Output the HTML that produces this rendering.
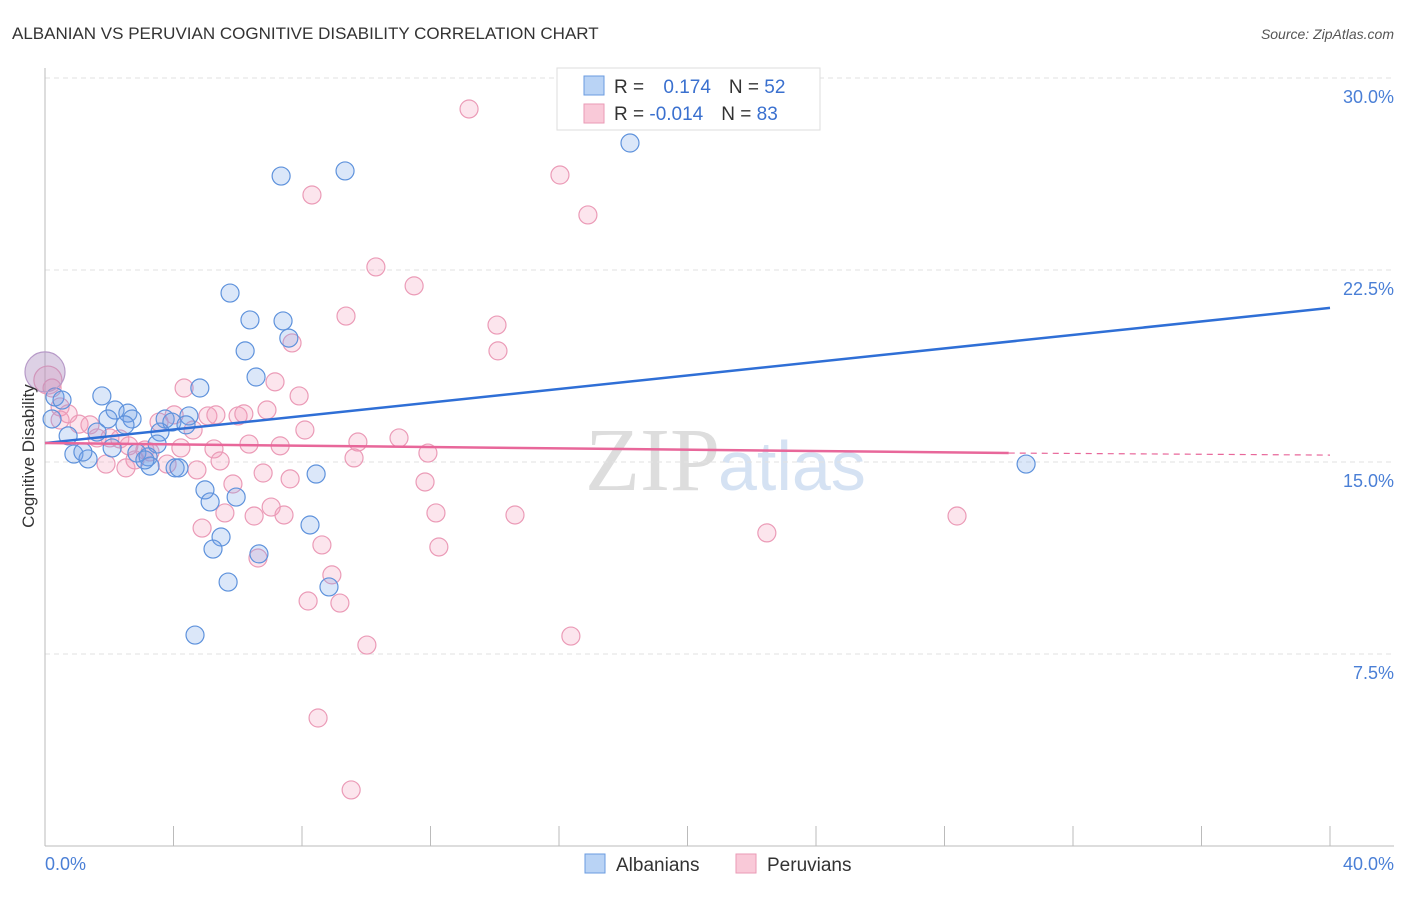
<!DOCTYPE html>
<html><head><meta charset="utf-8"><style>
body{margin:0;background:#fff;font-family:"Liberation Sans",sans-serif}
</style></head><body>
<svg id="c" width="1406" height="892" xmlns="http://www.w3.org/2000/svg" style="font-family:'Liberation Sans',sans-serif">
<text x="12" y="39" font-size="17" fill="#333">ALBANIAN VS PERUVIAN COGNITIVE DISABILITY CORRELATION CHART</text>
<text x="1394" y="39" font-size="14" fill="#555" font-style="italic" text-anchor="end">Source: ZipAtlas.com</text>
<text x="720" y="490" font-size="90" fill="#ddd" text-anchor="end" font-family="Liberation Serif">ZIP</text>
<text x="718" y="490" font-size="70" fill="#d5e2f3">atlas</text>
<g id="grid"></g><g id="pts"></g><g id="lines"></g>
<text transform="translate(34,456) rotate(-90)" font-size="17" fill="#333" text-anchor="middle">Cognitive Disability</text>
<text x="45" y="870" font-size="18" fill="#4a7fd6">0.0%</text>
<text x="1394" y="870" font-size="18" fill="#4a7fd6" text-anchor="end">40.0%</text>
<g>
<rect x="557" y="68" width="263" height="62" fill="#fff" stroke="#ddd"/>
<rect x="584" y="76" width="20" height="19" fill="#b9d3f5" stroke="#6a9be0"/>
<rect x="584" y="104" width="20" height="19" fill="#f9c9d8" stroke="#ea9ab6"/>
<text x="614" y="93" font-size="19" fill="#333">R = <tspan fill="#3a70cf" dx="14">0.174</tspan><tspan dx="18" fill="#333">N = </tspan><tspan fill="#3a70cf">52</tspan></text>
<text x="614" y="120" font-size="19" fill="#333">R = <tspan fill="#3a70cf" dx="0">-0.014</tspan><tspan dx="18" fill="#333">N = </tspan><tspan fill="#3a70cf">83</tspan></text>
</g>
<g>
<rect x="585" y="854" width="20" height="19" fill="#b9d3f5" stroke="#6a9be0"/>
<text x="616" y="871" font-size="19" fill="#333">Albanians</text>
<rect x="736" y="854" width="20" height="19" fill="#f9c9d8" stroke="#ea9ab6"/>
<text x="767" y="871" font-size="19" fill="#333">Peruvians</text>
</g>
</svg>
<script>
const yTicks=[7.5,15,22.5,30];
const yTickLabels=["7.5%","15.0%","22.5%","30.0%"];
const xTicks=[0,4,8,12,16,20,24,28,32,36,40];
const albX=[9.34,7.35,18.21,5.76,6.38,7.41,7.59,6.23,6.57,4.82,1.77,0.31,2.18,2.58,1.96,2.71,0.22,3.74,4.48,3.95,0.72,1.62,2.49,3.58,3.49,2.09,0.90,1.34,1.18,2.86,3.21,3.27,4.05,4.17,8.44,4.98,5.14,5.95,8.25,5.48,5.23,6.66,5.70,8.84,4.67,30.54,0,3.11,0.53,4.39];
const albY=[26.37,26.17,27.46,21.6,20.55,20.51,19.84,19.34,18.32,17.89,17.58,17.54,17.03,16.91,16.68,16.68,16.68,16.68,16.8,16.56,16.02,16.17,16.45,16.17,15.70,15.55,15.31,15.12,15.39,15.35,15.2,14.84,14.77,14.77,14.53,13.91,13.44,13.63,12.54,12.07,11.60,11.41,10.31,10.12,8.24,14.92,18.52,15.08,17.42,16.45];
const albBig=[46];
const perX=[13.2,16.03,8.31,16.9,10.3,11.49,9.37,14.07,7.69,14.1,4.33,7.16,7.91,0.22,0.47,0.72,5.07,5.32,6.01,6.19,6.91,4.02,1.06,3.55,4.61,8.09,11.02,9.74,6.35,7.32,1.62,2.33,0.47,5.26,4.23,11.92,9.62,3.11,2.61,2.8,5.45,3.8,1.9,2.52,4.73,6.79,7.63,11.83,5.85,7.04,5.6,6.51,7.44,12.17,14.63,28.39,4.89,22.47,8.62,12.26,6.63,8.93,8.19,9.18,16.37,10.02,8.5,9.53,0.09,1.4,3.27,2.02];
const perY=[28.79,26.21,25.43,24.65,22.62,21.88,20.7,20.35,19.65,19.34,17.89,18.13,17.58,17.89,17.15,16.88,16.8,16.84,16.8,16.88,17.03,16.84,16.48,16.56,16.25,16.25,15.94,15.78,15.7,15.63,15.94,15.9,16.64,15.51,15.55,15.35,15.16,15.47,15.63,15.08,15.04,14.92,14.92,14.77,14.69,14.57,14.34,14.22,14.14,13.24,13.01,12.89,12.93,13.01,12.93,12.89,12.42,12.23,11.76,11.68,11.25,10.59,9.57,9.49,8.2,7.85,5.0,2.19,18.2,16.45,15.39,15.94];
const albTrend=[15.74,21.02];
const perTrend=[15.74,15.35,15.27];
const sx=v=>45+v*32.125, sy=v=>846-v*25.6;
const NS="http://www.w3.org/2000/svg";
function mk(t,a,p){const e=document.createElementNS(NS,t);for(const k in a)e.setAttribute(k,a[k]);p.appendChild(e);return e;}
const g=document.getElementById('grid');
yTicks.forEach((t,i)=>{
 const l=mk('line',{x1:45,x2:1394,y1:sy(t),y2:sy(t),stroke:'#e2e2e2','stroke-dasharray':'5,4'},g);
 
 
 const tx=mk('text',{x:1394,y:sy(t)+25,'font-size':18,fill:'#4a7fd6','text-anchor':'end'},g);
 tx.textContent=yTickLabels[i];
 
 
});
const ax=mk('line',{x1:45,x2:45,y1:68,y2:846,stroke:'#bbb'},g);


const bx=mk('line',{x1:45,x2:1394,y1:846,y2:846,stroke:'#bbb'},g);


xTicks.forEach(t=>{const l=mk('line',{x1:sx(t),x2:sx(t),y1:826,y2:846,stroke:'#bbb'},g);
 
 });
const p=document.getElementById('pts');
perX.forEach((x,i)=>{const r=(i===68)?14:9;const c=mk('circle',{cx:sx(x),cy:sy(perY[i]),r:r,fill:'rgba(242,150,182,0.25)',stroke:'#eb9bb7','stroke-width':1.2},p);
 
 });
albX.forEach((x,i)=>{const r=albBig.includes(i)?20:9;const c=mk('circle',{cx:sx(x),cy:sy(albY[i]),r:r,fill:r>9?'rgba(170,140,190,0.4)':'rgba(110,160,230,0.25)',stroke:r>9?'#b79ac8':'#5e92dc','stroke-width':1.2},p);
 
 });
const L=document.getElementById('lines');
const b=mk('line',{x1:sx(0),y1:sy(albTrend[0]),x2:sx(40),y2:sy(albTrend[1]),stroke:'#2f6fd6','stroke-width':2.5},L);


const q=mk('line',{x1:sx(0),y1:sy(perTrend[0]),x2:sx(30),y2:sy(perTrend[1]),stroke:'#e8679a','stroke-width':2.5},L);


const q2=mk('line',{x1:sx(30),y1:sy(perTrend[1]),x2:sx(40),y2:sy(perTrend[2]),stroke:'#e8679a','stroke-width':1.2,'stroke-dasharray':'6,5'},L);


</script>
</body></html>
